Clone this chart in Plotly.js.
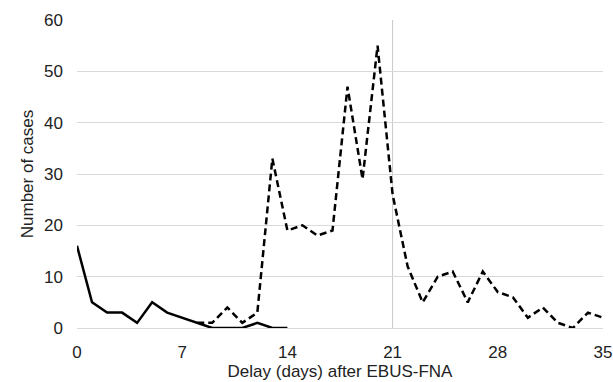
<!DOCTYPE html>
<html>
<head>
<meta charset="utf-8">
<script src="https://cdn.plot.ly/plotly-3.0.1.min.js"></script>
<style>html,body{margin:0;padding:0;background:#fff;}#chart{width:613px;height:382px;}</style>
</head>
<body>
<div id="chart"></div>
<script>
var solidDays = [0,1,2,3,4,5,6,7,8,9,10,11,12,13,14];
var solidCases = [16,5,3,3,1,5,3,2,1,0,0,0,1,0,0];
var dashedDays = [8,9,10,11,12,13,14,15,16,17,18,19,20,21,22,23,24,25,26,27,28,29,30,31,32,33,34,35];
var dashedCases = [1,1,4,1,3,33,19,20,18,19,47,29,55,26,12,5,10,11,5,11,7,6,2,4,1,0,3,2];
var xTicks = [0,7,14,21,28,35];
var yTicks = [0,10,20,30,40,50,60];
var markerDay = 21;

var font = {family: 'Liberation Sans, Arial, sans-serif', size: 17, color: '#222'};
var traces = [
  {x: solidDays, y: solidCases, type: 'scatter', mode: 'lines', line: {color: '#000', width: 2.5}, hoverinfo: 'none'},
  {x: dashedDays, y: dashedCases, type: 'scatter', mode: 'lines', line: {color: '#000', width: 2.5, dash: '7px,4px'}, hoverinfo: 'none'}
];
var layout = {
  width: 613, height: 382,
  margin: {l: 77, r: 10, t: 20, b: 54},
  paper_bgcolor: '#fff', plot_bgcolor: '#fff',
  showlegend: false,
  font: font,
  xaxis: {
    range: [0, 35], tickvals: xTicks, ticktext: xTicks.map(String),
    showgrid: false, zeroline: false, showline: false, ticks: '',
    ticklabelstandoff: 12,
    title: {text: 'Delay (days) after EBUS-FNA', font: font, standoff: 2}
  },
  yaxis: {
    range: [0, 60], tickvals: yTicks, ticktext: yTicks.map(String),
    showgrid: true, gridcolor: '#d9d9d9', gridwidth: 1,
    zeroline: true, zerolinecolor: '#d9d9d9', zerolinewidth: 1,
    showline: false, ticks: '', ticklabelstandoff: 13,
    title: {text: 'Number of cases', font: font, standoff: 6}
  },
  shapes: [{type: 'line', xref: 'x', yref: 'y', x0: markerDay, x1: markerDay, y0: 0, y1: 60, line: {color: '#c8c8c8', width: 1}, layer: 'below'}]
};
Plotly.newPlot('chart', traces, layout, {staticPlot: true, displayModeBar: false});
</script>
</body>
</html>
